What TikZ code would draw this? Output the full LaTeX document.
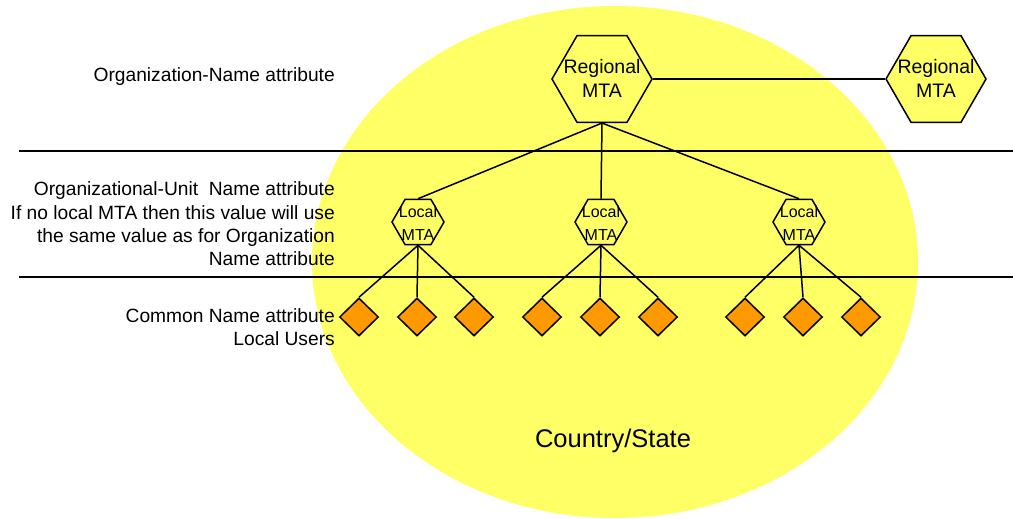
\documentclass[tikz,border=0pt]{standalone}
\usepackage{fontspec}
\setmainfont{Liberation Sans}
\usetikzlibrary{shapes.geometric}
\definecolor{zoneyellow}{HTML}{FFFF66}
\definecolor{userorange}{HTML}{FF9900}
\tikzset{
  regionalhex/.style={regular polygon, regular polygon sides=6, minimum size=100pt, inner sep=0pt,
    draw=black, line width=1.5pt, fill=zoneyellow},
  localhex/.style={regular polygon, regular polygon sides=6, minimum size=52pt, inner sep=0pt,
    draw=black, line width=1.5pt, fill=zoneyellow},
  userbox/.style={diamond, minimum width=39pt, minimum height=38pt, inner sep=0pt, aspect=1,
    draw=black, line width=1.5pt, fill=userorange},
  conn/.style={line width=1.5pt, black},
  sepline/.style={line width=1.5pt, black},
  leftlabel/.style={anchor=east, align=right, inner sep=0pt, font=\fontsize{19.2}{23.3}\selectfont},
  hexlabel/.style={align=center, inner sep=0pt, font=\fontsize{19.5}{24}\selectfont},
  loclabel/.style={align=center, inner sep=0pt, font=\fontsize{16}{23}\selectfont},
}
\begin{document}
\begin{tikzpicture}[x=1pt, y=-1pt]
\useasboundingbox (0,0) rectangle (1013,519);
% country ellipse
\fill[zoneyellow] (615,262) ellipse [x radius=303pt, y radius=256pt];
\node[font=\fontsize{25.5}{30}\selectfont] (country) at (613,441) {Country/State};
% separator lines
\coordinate (s1a) at (19,151); \coordinate (s1b) at (1013,151);
\coordinate (s2a) at (19,277); \coordinate (s2b) at (1013,277);
\draw[sepline] (s1a) -- (s1b);
\draw[sepline] (s2a) -- (s2b);
% left labels
\node[leftlabel] (lab1) at (335,77) {Organization-Name attribute};
\node[leftlabel] (lab2) at (335,224) {Organizational-Unit\ \ Name attribute\\If no local MTA then this value will use\\the same value as for Organization\\Name attribute};
\node[leftlabel] (lab3) at (335,327) {Common Name attribute\\Local Users};
% regional MTAs
\node[regionalhex] (reg) at (602,79) {};
\node[hexlabel] (regt) at (602,78) {Regional\\MTA};
\node[regionalhex] (reg2) at (936,79) {};
\node[hexlabel] (reg2t) at (936,78) {Regional\\MTA};
\draw[conn] (reg.east) -- (reg2.west);
% local MTAs
\foreach \n/\x in {l1/418, l2/601, l3/799} {
  \node[localhex] (\n) at (\x,222) {};
  \draw[conn] (reg.south) -- (\n.north);
}
\foreach \n/\x in {l1/418, l2/601, l3/799} {
  \node[loclabel] (\n t) at (\x,223) {Local\\MTA};
}
% users
\foreach \n/\a/\b/\c in {l1/359/417/474, l2/542/600/658, l3/745/803/861} {
  \node[userbox] (\n a) at (\a,317) {};
  \node[userbox] (\n b) at (\b,317) {};
  \node[userbox] (\n c) at (\c,317) {};
  \draw[conn] (\n.south) -- (\n a.north);
  \draw[conn] (\n.south) -- (\n b.north);
  \draw[conn] (\n.south) -- (\n c.north);
}
\end{tikzpicture}
\end{document}
